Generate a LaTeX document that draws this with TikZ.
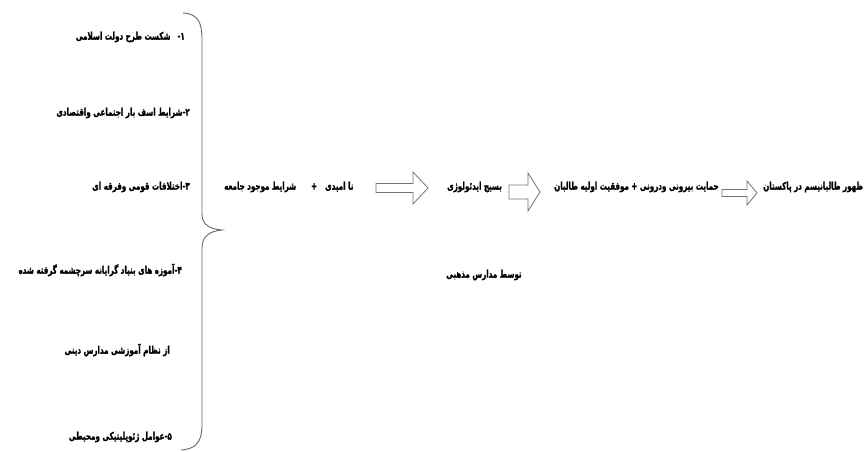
\documentclass[tikz,border=0pt]{standalone}
\usepackage{fontspec}
\usetikzlibrary{calc,positioning}
\TeXXeTstate=1
\newfontfamily\farsifont[Script=Arabic,FakeStretch=0.68,BoldFeatures={FakeBold=1.3}]{DejaVu Sans}
\newcommand{\Fa}[1]{\beginR #1\endR}
\tikzset{
  fatext/.style={font=\farsifont\bfseries\fontsize{10.5}{12}\selectfont,inner sep=1pt},
  bracepath/.style={draw=black!60,line width=.9pt},
  fatarrow/.style={draw=black!55,fill=white,line width=.8pt,line join=miter}
}
\newcommand{\FatArrow}[5]{%
  \draw[fatarrow] ($(#1)+(0,#3)$) -- ($(#2)+(-#5,#3)$) -- ($(#2)+(-#5,#4)$) -- (#2)
    -- ($(#2)+(-#5,-#4)$) -- ($(#2)+(-#5,-#3)$) -- ($(#1)+(0,-#3)$) -- cycle;
}

\begin{document}
\begin{tikzpicture}[x=1pt,y=-1pt]
  \useasboundingbox (0,0) rectangle (867,452);
  \node[fatext,anchor=east] (c1) at (186,37) {\Fa{۱-\hspace{7pt}شکست طرح دولت اسلامی}};
  \node[fatext,anchor=east] (c2) at (191,113) {\Fa{۲-شرایط اسف بار اجتماعی واقتصادی}};
  \node[fatext,anchor=east] (c3) at (191,187) {\Fa{۳-اختلافات قومی وفرقه ای}};
  \node[fatext,anchor=east] (c4) at (183,270) {\Fa{۴-آموزه های بنیاد گرایانه سرچشمه گرفته شده}};
  \node[fatext,anchor=east] (c5) at (171,350) {\Fa{از نظام آموزشی مدارس دینی}};
  \node[fatext,anchor=east] (c6) at (173,437) {\Fa{۵-عوامل ژئوپلیتیکی ومحیطی}};
  \draw[bracepath] (183,13) .. controls (198,14) and (202,22) .. (202,40)
    -- (202,214) .. controls (202,225) and (210,229) .. (222,230)
    .. controls (210,231) and (202,236) .. (202,248)
    -- (202,425) .. controls (202,442) and (196,449) .. (181,450);
  \node[fatext,anchor=west] (soc) at (223,187) {\Fa{نا امیدی\hspace{8pt}+\hspace{15pt}شرایط موجود جامعه}};
  \node[fatext,anchor=west] (mob) at (446,187) {\Fa{بسیج ایدئولوژی}};
  \node[fatext,anchor=west] (sch) at (445,275) {\Fa{توسط مدارس مذهبی}};
  \node[fatext,anchor=west] (sup) at (553,187) {\Fa{حمایت بیرونی ودرونی + موفقیت اولیه طالبان}};
  \node[fatext,anchor=west] (rise) at (762,187) {\Fa{ظهور طالبانیسم در پاکستان}};
  \coordinate (a1t) at (376,188);
  \coordinate (a1h) at (428,188);
  \coordinate (a2t) at (509,192);
  \coordinate (a2h) at (540,192);
  \coordinate (a3t) at (722,193);
  \coordinate (a3h) at (757,193);
  \FatArrow{a1t}{a1h}{4.5}{16}{15}
  \FatArrow{a2t}{a2h}{7}{19}{12}
  \FatArrow{a3t}{a3h}{3.5}{12}{10}
\end{tikzpicture}
\end{document}
